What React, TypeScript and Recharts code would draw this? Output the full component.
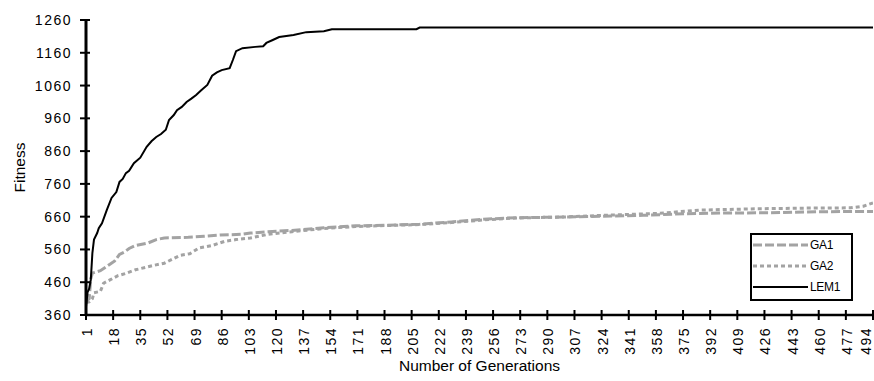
import React from 'react';
import { LineChart, Line, XAxis, YAxis, Legend, Label } from 'recharts';

const xTicks = [1, 18, 35, 52, 69, 86, 103, 120, 137, 154, 171, 188, 205, 222, 239, 256, 273, 290, 307, 324, 341, 358, 375, 392, 409, 426, 443, 460, 477, 494];
const yTicks = [360, 460, 560, 660, 760, 860, 960, 1060, 1160, 1260];

const lem1Gen = [1, 2, 3, 4, 5, 6, 8, 9, 11, 14, 17, 20, 22, 24, 26, 28, 31, 35, 39, 42, 45, 48, 51, 53, 56, 58, 61, 64, 67, 70, 73, 77, 80, 83, 86, 91, 93, 95, 99, 107, 112, 114, 118, 122, 131, 139, 150, 155, 208, 210, 494];
const lem1Fit = [385, 430, 440, 467, 549, 590, 610, 625, 640, 680, 717, 735, 766, 775, 793, 800, 823, 840, 873, 890, 903, 912, 925, 955, 970, 985, 995, 1010, 1020, 1031, 1045, 1062, 1090, 1100, 1107, 1113, 1138, 1165, 1174, 1178, 1180, 1190, 1199, 1208, 1214, 1223, 1226, 1232, 1232, 1237, 1237];

const ga1Gen = [1, 3, 4, 5, 10, 13, 16, 19, 22, 25, 28, 32, 40, 45, 50, 65, 75, 85, 98, 104, 115, 130, 150, 170, 190, 210, 230, 250, 265, 300, 330, 350, 370, 400, 430, 460, 494];
const ga1Fit = [400, 410, 470, 488, 495, 505, 515, 525, 545, 552, 563, 572, 580, 590, 595, 597, 600, 604, 606, 610, 614, 618, 626, 632, 634, 637, 644, 652, 656, 659, 662, 664, 668, 671, 672, 675, 676];

const ga2Gen = [1, 3, 5, 6, 10, 12, 16, 21, 26, 32, 39, 44, 50, 55, 60, 66, 72, 80, 88, 95, 104, 115, 130, 150, 170, 190, 210, 230, 250, 270, 300, 330, 360, 385, 420, 450, 480, 488, 494];
const ga2Fit = [398, 400, 410, 428, 432, 457, 467, 480, 487, 498, 506, 512, 518, 530, 542, 547, 565, 572, 585, 590, 595, 606, 614, 624, 630, 633, 636, 642, 650, 656, 659, 665, 670, 680, 684, 686, 687, 692, 702];

const toData = (g: number[], f: number[]) => g.map((gen, i) => ({ gen, fit: f[i] }));
const ga1Data = toData(ga1Gen, ga1Fit);
const ga2Data = toData(ga2Gen, ga2Fit);
const lem1Data = toData(lem1Gen, lem1Fit);

const W = 874;
const H = 381;
const YW = 86;
const XH = 66;
const TOP = 20;
const PLOT_BOTTOM = H - XH;
const FONT = '"Liberation Sans", Arial, Helvetica, sans-serif';
const GRAY = '#a3a3a3';

const dashes: Record<string, string> = { GA1: '9 3', GA2: '4 3', LEM1: '' };
const widths: Record<string, number> = { GA1: 3, GA2: 3, LEM1: 2 };

const YTick = (props: any) => {
  const { y, payload } = props;
  return (
    <g>
      <line x1={YW - 6} x2={YW + 4} y1={y} y2={y} stroke="#000" strokeWidth={2} />
      <text x={YW - 14} y={y} textAnchor="end" dominantBaseline="central" fontFamily={FONT} fontSize={14} letterSpacing={1.5} fill="#000">
        {payload.value}
      </text>
    </g>
  );
};

const XTick = (props: any) => {
  const { x, payload } = props;
  const ty = PLOT_BOTTOM + 12;
  const tx = Math.min(x + 1, W - 8);
  return (
    <g>
      <line x1={x} x2={x} y1={PLOT_BOTTOM - 5} y2={PLOT_BOTTOM + 5} stroke="#000" strokeWidth={2} />
      <text x={tx} y={ty} transform={`rotate(-90 ${tx} ${ty})`} textAnchor="end" dominantBaseline="central" fontFamily={FONT} fontSize={14} letterSpacing={1.5} fill="#000">
        {payload.value}
      </text>
    </g>
  );
};

const LegendBox = (props: any) => {
  const payload = props.payload || [];
  return (
    <svg width={103} height={68} style={{ display: 'block' }}>
      <rect x={1} y={1} width={101} height={66} fill="#fff" stroke="#000" strokeWidth={2} />
      {payload.map((e: any, i: number) => {
        const cy = 12 + i * 21;
        return (
          <g key={e.value}>
            <line x1={3} x2={58} y1={cy} y2={cy} stroke={e.color} strokeWidth={widths[e.value]} strokeDasharray={dashes[e.value] || undefined} />
            <text x={60} y={cy} dominantBaseline="central" fontFamily={FONT} fontSize={12} letterSpacing={-0.3} fill="#000">
              {e.value}
            </text>
          </g>
        );
      })}
    </svg>
  );
};

export default function App() {
  return (
    <div style={{ position: 'absolute', left: 0, top: 0, width: W, height: H, background: '#fff' }}>
      <LineChart width={W} height={H} margin={{ top: TOP, right: 1, bottom: 0, left: 0 }}>
        <XAxis
          dataKey="gen"
          type="number"
          domain={[1, 494]}
          ticks={xTicks}
          interval={0}
          allowDataOverflow
          height={XH}
          axisLine={{ stroke: '#000', strokeWidth: 2.5 }}
          tickLine={false}
          tickSize={0}
          tick={<XTick />}
        >
          <Label
            content={(p: any) => {
              const vb = p.viewBox || { x: YW, width: W - YW - 1 };
              const cx = vb.x + vb.width / 2;
              return (
                <text x={cx} y={371} textAnchor="middle" fontFamily={FONT} fontSize={15.5} fill="#000">
                  Number of Generations
                </text>
              );
            }}
          />
        </XAxis>
        <YAxis
          type="number"
          domain={[360, 1260]}
          ticks={yTicks}
          interval={0}
          width={YW}
          axisLine={{ stroke: '#000', strokeWidth: 3 }}
          tickLine={false}
          tickSize={0}
          tick={<YTick />}
        >
          <Label
            content={(p: any) => {
              const vb = p.viewBox || { y: TOP, height: PLOT_BOTTOM - TOP };
              const cy = vb.y + vb.height / 2;
              return (
                <text x={19} y={cy} transform={`rotate(-90 19 ${cy})`} textAnchor="middle" dominantBaseline="central" fontFamily={FONT} fontSize={15.5} fill="#000">
                  Fitness
                </text>
              );
            }}
          />
        </YAxis>
        <Legend
          layout="vertical"
          align="center"
          verticalAlign="middle"
          wrapperStyle={{ position: 'absolute', left: 750, top: 233, width: 103, height: 68 }}
          content={<LegendBox />}
        />
        <Line data={ga1Data} dataKey="fit" name="GA1" type="linear" stroke={GRAY} strokeWidth={3} strokeDasharray="9 3" dot={false} activeDot={false} isAnimationActive={false} />
        <Line data={ga2Data} dataKey="fit" name="GA2" type="linear" stroke={GRAY} strokeWidth={3} strokeDasharray="4 3" dot={false} activeDot={false} isAnimationActive={false} />
        <Line data={lem1Data} dataKey="fit" name="LEM1" type="linear" stroke="#000" strokeWidth={2} dot={false} activeDot={false} isAnimationActive={false} />
      </LineChart>
    </div>
  );
}
